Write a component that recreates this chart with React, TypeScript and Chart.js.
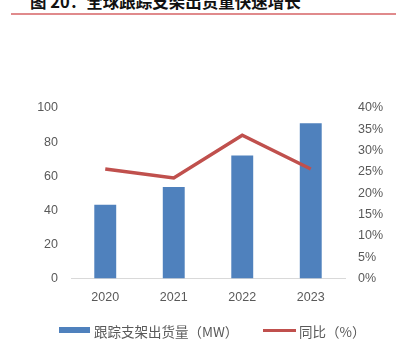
import React, { useEffect, useRef } from "react";
import { Chart, registerables } from "chart.js";

Chart.register(...registerables);

const titleText = "图 20：全球跟踪支架出货量快速增长";
const categories = ["2020", "2021", "2022", "2023"];
const shipments = [43.3, 53.6, 72.1, 91.0];
const yoyPercent = [25.7, 23.6, 33.6, 25.7];
const barLabel = "跟踪支架出货量（MW）";
const lineLabel = "同比（%）";

const BLUE = "#4f81bd";
const RED = "#c0504d";
const GRAY = "#595959";

export default function App() {
  const ref = useRef<HTMLCanvasElement | null>(null);

  useEffect(() => {
    if (!ref.current) return;
    const tickFont = { family: "'Liberation Sans', Arial, sans-serif", size: 12.5 };
    const chart = new Chart(ref.current, {
      type: "bar",
      data: {
        labels: categories,
        datasets: [
          {
            type: "line",
            label: lineLabel,
            data: yoyPercent,
            borderColor: RED,
            backgroundColor: RED,
            borderWidth: 3.5,
            pointRadius: 0,
            tension: 0,
            yAxisID: "y1",
            order: 1,
          } as any,
          {
            type: "bar",
            label: barLabel,
            data: shipments,
            backgroundColor: BLUE,
            barPercentage: 0.32,
            categoryPercentage: 1,
            yAxisID: "y",
            order: 2,
          },
        ],
      },
      options: {
        animation: false,
        responsive: false,
        maintainAspectRatio: false,
        layout: { padding: { top: 108, bottom: 44.5, left: 0, right: 0 } },
        plugins: { legend: { display: false }, tooltip: { enabled: false } },
        scales: {
          x: {
            grid: { display: false, drawTicks: false },
            border: { display: true, color: "#d9d9d9", width: 1 },
            ticks: { color: GRAY, font: tickFont, padding: 12, maxRotation: 0 },
            afterFit: (s: any) => {
              s.height = 40;
            },
          },
          y: {
            position: "left",
            min: 0,
            max: 100,
            grid: { display: false, drawTicks: false },
            border: { display: false },
            ticks: { stepSize: 20, color: GRAY, font: tickFont, padding: 13 },
            afterFit: (s: any) => {
              s.width = 71;
            },
          },
          y1: {
            position: "right",
            min: 0,
            max: 40,
            grid: { display: false, drawTicks: false },
            border: { display: false },
            ticks: {
              stepSize: 5,
              color: GRAY,
              font: tickFont,
              padding: 13,
              callback: (v: any) => v + "%",
            },
            afterFit: (s: any) => {
              s.width = 51;
            },
          },
        },
      },
    });
    return () => chart.destroy();
  }, []);

  const legendFont: React.CSSProperties = {
    position: "absolute",
    fontFamily: "'Noto Sans CJK SC', sans-serif",
    fontSize: 13.5,
    color: GRAY,
    lineHeight: "16px",
    whiteSpace: "nowrap",
  };

  return (
    <div style={{ position: "absolute", left: 0, top: 0, width: 396, height: 363, overflow: "hidden", background: "#fff" }}>
      <div
        style={{
          position: "absolute",
          left: 30,
          top: -7,
          fontFamily: "'Noto Sans CJK SC', sans-serif",
          fontWeight: 700,
          fontSize: 16.5,
          lineHeight: "17px",
          color: "#111",
          whiteSpace: "nowrap",
        }}
      >
        {titleText}
      </div>
      <div style={{ position: "absolute", left: 11, top: 13, width: 385, height: 1.5, background: "#e08a8c" }} />
      <canvas ref={ref} width={396} height={363} style={{ position: "absolute", left: 0, top: 0 }} />
      <div style={{ position: "absolute", left: 59, top: 327, width: 31, height: 6, background: BLUE }} />
      <div style={{ ...legendFont, left: 94, top: 322.5 }}>{barLabel}</div>
      <div style={{ position: "absolute", left: 263, top: 329, width: 33, height: 3, background: RED }} />
      <div style={{ ...legendFont, left: 299, top: 322.5 }}>{lineLabel}</div>
    </div>
  );
}
